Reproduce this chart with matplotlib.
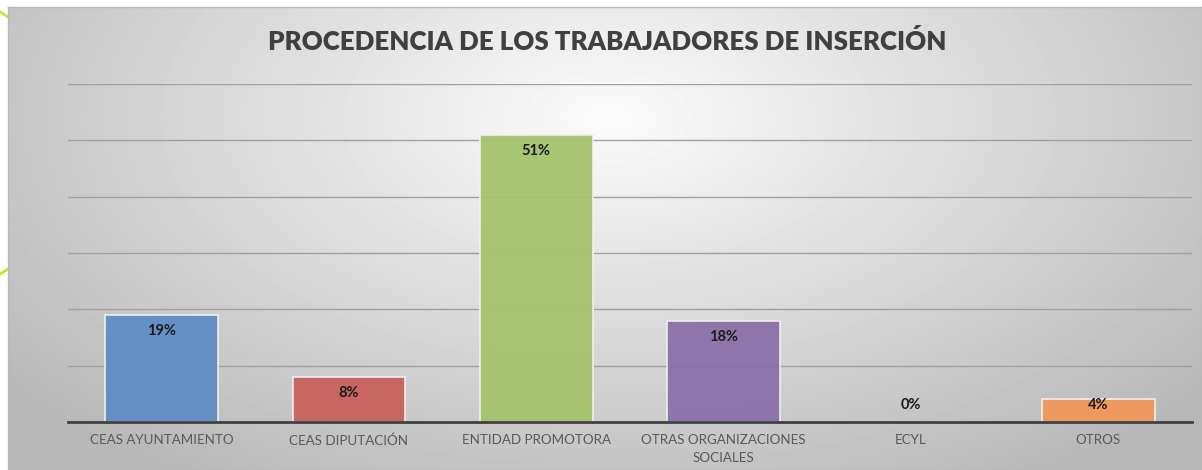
import matplotlib.pyplot as plt
import matplotlib
import numpy as np
from matplotlib.patches import Ellipse

matplotlib.rcParams['font.family'] = ['Lato', 'DejaVu Sans']

# data
categories = ["CEAS AYUNTAMIENTO", "CEAS DIPUTACIÓN", "ENTIDAD PROMOTORA",
              "OTRAS ORGANIZACIONES\nSOCIALES", "ECYL", "OTROS"]
values = [0.19, 0.08, 0.51, 0.18, 0.00, 0.04]
labels = ["19%", "8%", "51%", "18%", "0%", "4%"]
colors = ["#5f8dc5", "#c8615e", "#a4c36f", "#8a71a8", "#c9d4e3", "#f0985a"]
title = "PROCEDENCIA DE LOS TRABAJADORES DE INSERCIÓN"

W, H = 1202, 470
fig = plt.figure(figsize=(W / 100, H / 100), dpi=100)
fig.patch.set_facecolor("white")

# decorative arc of the slide, behind the chart panel
arc = Ellipse((-76 / W, (H - 143) / H), 2 * 151.5 / W, 2 * 151.5 / H,
              transform=fig.transFigure, fill=False,
              edgecolor="#c5e82a", linewidth=2, zorder=0)
fig.patches.append(arc)

# chart panel with radial gray gradient
bg = fig.add_axes([8 / W, 0, 1 - 8 / W, (H - 7) / H], zorder=1)
yy, xx = np.mgrid[0:463, 0:1194]
r = np.sqrt(((xx - 600) / 760.0) ** 2 + ((yy - 110) / 420.0) ** 2)
shade = np.clip(0.985 - 0.26 * r, 0.72, 1.0)
bg.imshow(shade, cmap="gray", vmin=0, vmax=1, aspect="auto", interpolation="bilinear")
bg.set_xticks([])
bg.set_yticks([])
for s in bg.spines.values():
    s.set_color("#b8b8b8")
    s.set_linewidth(1)

ax = fig.add_axes([68 / W, (H - 422) / H, (1192 - 68) / W, (422 - 84) / H], zorder=2)
ax.patch.set_alpha(0)
x = np.arange(len(categories))
ax.set_xlim(-0.5, len(categories) - 0.5)
ax.set_ylim(0, 0.6)
ax.set_yticks(np.arange(0.1, 0.61, 0.1))
ax.yaxis.grid(True, color="#a0a0a0", linewidth=1)
ax.set_axisbelow(True)
ax.tick_params(axis="y", length=0, labelleft=False)
ax.tick_params(axis="x", length=0, pad=9, labelsize=9.6, labelcolor="#595959")
for name in ["top", "right", "left"]:
    ax.spines[name].set_visible(False)
ax.spines["bottom"].set_color("#404040")
ax.spines["bottom"].set_linewidth(2)
ax.spines["bottom"].set_zorder(5)

ax.bar(x, values, width=0.6, color=colors, edgecolor="#f2f2f2", linewidth=1.2, alpha=0.95,
       zorder=3)
ax.set_xticks(x)
ax.set_xticklabels(categories, linespacing=1.55)

for xi, v, lab in zip(x, values, labels):
    ax.text(xi, max(v - 0.0285, 0.03), lab, ha="center", va="center",
            fontsize=10.5, fontweight="bold", color="#1a1a1a", zorder=6)

fig.text(607 / W, (H - 42) / H, title, ha="center", va="center", fontsize=18.6,
         fontweight="heavy", color="#404040", zorder=5)

fig.savefig("out.png", dpi=100)
